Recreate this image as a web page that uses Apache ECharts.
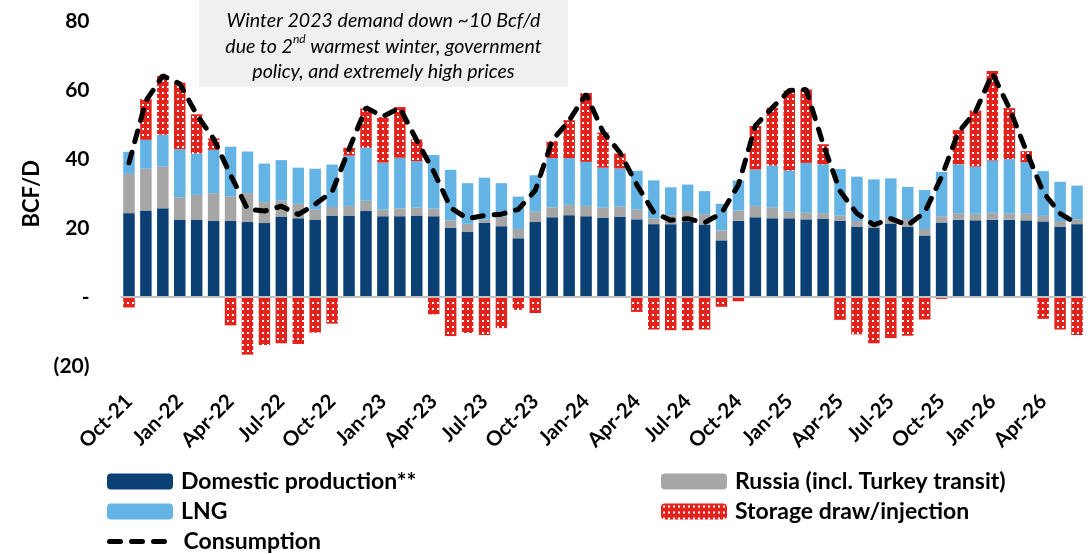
<!DOCTYPE html>
<html>
<head>
<meta charset="utf-8">
<script src="https://cdn.jsdelivr.net/npm/echarts@6/dist/echarts.min.js"></script>
<style>
  html, body { margin: 0; padding: 0; background: #ffffff; }
  #chart { width: 1091px; height: 554px; }
</style>
</head>
<body>
<div id="chart"></div>
<script>
// Monthly European gas balance, Bcf/d
const months = [
  'Oct-21','Nov-21','Dec-21','Jan-22','Feb-22','Mar-22','Apr-22','May-22','Jun-22','Jul-22','Aug-22','Sep-22',
  'Oct-22','Nov-22','Dec-22','Jan-23','Feb-23','Mar-23','Apr-23','May-23','Jun-23','Jul-23','Aug-23','Sep-23',
  'Oct-23','Nov-23','Dec-23','Jan-24','Feb-24','Mar-24','Apr-24','May-24','Jun-24','Jul-24','Aug-24','Sep-24',
  'Oct-24','Nov-24','Dec-24','Jan-25','Feb-25','Mar-25','Apr-25','May-25','Jun-25','Jul-25','Aug-25','Sep-25',
  'Oct-25','Nov-25','Dec-25','Jan-26','Feb-26','Mar-26','Apr-26','May-26','Jun-26'
];

const domesticProduction = [
  24.4, 25.2, 25.8, 22.4, 22.4, 22.1, 22.1, 21.8, 21.5, 23.4, 22.9, 22.4,
  23.7, 23.7, 25.0, 23.5, 23.5, 23.7, 23.5, 20.1, 18.9, 21.6, 20.6, 17.1,
  21.8, 23.2, 23.8, 23.5, 23.0, 23.4, 22.6, 21.2, 21.2, 22.0, 21.1, 16.5,
  22.2, 23.2, 22.9, 22.9, 22.6, 22.8, 22.2, 20.5, 20.2, 21.4, 20.5, 17.9,
  21.7, 22.5, 22.3, 22.5, 22.5, 22.3, 22.0, 20.5, 21.2
];

const russia = [
  11.4, 12.1, 12.2, 6.6, 7.3, 8.1, 7.2, 8.4, 6.1, 4.6, 4.2, 3.0,
  2.5, 2.8, 3.0, 1.9, 2.3, 2.3, 2.2, 2.2, 2.4, 0.9, 2.8, 2.7,
  3.0, 2.9, 3.0, 3.0, 3.0, 2.9, 2.8, 1.7, 2.6, 3.0, 3.0, 2.9,
  2.9, 3.3, 3.2, 1.9, 1.9, 1.6, 1.5, 1.6, 1.0, 1.6, 2.2, 1.9,
  1.8, 1.9, 1.9, 2.0, 1.8, 1.9, 1.6, 1.6, 1.4
];

const lng = [
  6.4, 8.4, 9.2, 14.0, 12.0, 12.6, 14.4, 12.1, 11.2, 11.8, 10.5, 11.9,
  12.3, 14.6, 15.4, 13.7, 14.7, 13.5, 15.6, 14.7, 11.8, 12.2, 9.7, 9.4,
  10.6, 14.3, 13.6, 12.8, 11.6, 11.1, 11.3, 11.0, 8.1, 7.7, 6.7, 7.7,
  8.8, 10.6, 12.1, 12.0, 14.5, 14.2, 13.5, 12.9, 13.0, 11.5, 9.3, 11.3,
  12.9, 14.2, 13.7, 15.2, 15.8, 15.0, 13.0, 11.4, 9.8
];

// positive = withdrawal from storage, negative = injection
const storage = [
  -3.0, 11.8, 17.2, 19.3, 11.4, 3.3, -8.2, -16.7, -13.9, -13.4, -13.6, -10.3,
  -7.7, 2.3, 11.4, 13.2, 14.7, 6.3, -5.0, -11.3, -10.4, -11.0, -9.0, -3.7,
  -4.6, 4.9, 11.0, 20.0, 10.2, 4.3, -4.3, -9.4, -9.6, -9.6, -9.4, -2.8,
  -1.2, 12.6, 16.8, 23.2, 21.3, 5.8, -6.6, -10.8, -13.4, -11.9, -11.2, -6.5,
  -0.5, 9.9, 16.3, 26.0, 14.8, 3.2, -6.3, -9.4, -11.0
];

const consumption = [
  39.0, 57.0, 64.3, 62.0, 53.0, 46.0, 35.5, 25.6, 25.0, 26.4, 24.0, 27.0,
  30.6, 43.0, 55.0, 52.5, 55.0, 45.5, 36.5, 26.0, 22.8, 23.7, 24.1, 25.5,
  31.0, 45.5, 51.3, 59.0, 48.0, 42.0, 32.6, 24.6, 22.3, 22.8, 21.6, 24.4,
  32.6, 49.8, 55.0, 60.0, 60.3, 44.5, 30.8, 24.3, 21.0, 22.8, 20.9, 24.6,
  35.0, 48.0, 53.8, 65.0, 54.9, 42.5, 30.5, 24.3, 21.3
];

const yTicks = [-20, 0, 20, 40, 60, 80];

const FONT = 'Lato, "Open Sans", sans-serif';

// red fill with white dots for the storage bars
function dotPattern() {
  const c = document.createElement('canvas');
  c.width = 5; c.height = 6;
  const ctx = c.getContext('2d');
  ctx.fillStyle = '#e3231b';
  ctx.fillRect(0, 0, 5, 6);
  ctx.fillStyle = '#ffffff';
  ctx.fillRect(2, 2, 2, 2);
  return c;
}

// one legend entry per block so each sits on its own row
function legendEntry(item, left, top, extra) {
  return Object.assign({
    left: left, top: top, orient: 'horizontal',
    itemWidth: 66, itemHeight: 16, itemGap: 0,
    textStyle: { fontFamily: FONT, fontWeight: 'bold', fontSize: 23, color: '#000000', padding: [0, 0, 0, 3] },
    data: [item]
  }, extra || {});
}

const chart = echarts.init(document.getElementById('chart'), null, { renderer: 'canvas' });

const barW = 11.5;

chart.setOption({
  animation: false,
  backgroundColor: '#ffffff',
  grid: { left: 120.5, right: 5.5, top: 21.7, bottom: 188 },
  xAxis: {
    type: 'category',
    data: months,
    boundaryGap: true,
    axisLine: { show: false, onZero: false },
    axisTick: { show: false },
    axisLabel: {
      interval: 2,
      rotate: 45,
      margin: 32,
      fontFamily: FONT,
      fontWeight: 'bold',
      fontSize: 20.5,
      color: '#000000'
    }
  },
  yAxis: {
    type: 'value',
    min: yTicks[0],
    max: yTicks[yTicks.length - 1],
    interval: 20,
    name: 'BCF/D',
    nameLocation: 'middle',
    nameGap: 78,
    nameRotate: 90,
    nameTextStyle: { fontFamily: FONT, fontWeight: 'bold', fontSize: 22, color: '#000000' },
    axisLine: { show: false },
    axisTick: { show: false },
    splitLine: { show: false },
    axisLabel: {
      margin: 31,
      fontFamily: FONT,
      fontWeight: 'bold',
      fontSize: 21,
      color: '#000000',
      formatter: function (v) {
        if (v === 0) return '-';
        if (v < 0) return '(' + Math.abs(v) + ')';
        return String(v);
      }
    }
  },
  legend: [
    legendEntry('Domestic production**', 102, 465),
    legendEntry('LNG', 102, 495),
    legendEntry({
      name: 'Consumption',
      itemStyle: { opacity: 0 },
      lineStyle: { color: '#000000', width: 5, type: [11, 11], cap: 'round' }
    }, 102, 525),
    legendEntry('Russia (incl. Turkey transit)', 656, 465),
    legendEntry('Storage draw/injection', 656, 495)
  ],
  graphic: [
    {
      type: 'rect', left: 199, top: 0, z: 10,
      shape: { width: 369, height: 87 },
      style: { fill: '#f0f0f0' }
    },
    {
      type: 'text', x: 383.5, y: 8, z: 11,
      style: {
        text: 'Winter 2023 demand down ~10 Bcf/d\ndue to 2{sup|nd} warmest winter, government\npolicy, and extremely high prices',
        align: 'center',
        verticalAlign: 'top',
        fontFamily: FONT,
        fontStyle: 'italic',
        fontSize: 19.6,
        lineHeight: 25.5,
        fill: '#000000',
        rich: {
          sup: { fontFamily: FONT, fontStyle: 'italic', fontSize: 12, lineHeight: 25.5, verticalAlign: 'top', padding: [0, 0, 10, 0] }
        }
      }
    }
  ],
  series: [
    {
      name: 'Domestic production**', type: 'bar', stack: 'supply', barWidth: barW,
      itemStyle: { color: '#0b4075' },
      data: domesticProduction,
      markLine: {
        silent: true, symbol: 'none', label: { show: false },
        lineStyle: { color: '#c0c0c0', width: 2, type: 'solid' },
        data: [{ yAxis: 0 }]
      }
    },
    {
      name: 'Russia (incl. Turkey transit)', type: 'bar', stack: 'supply', barWidth: barW,
      itemStyle: { color: '#a6a6a6' },
      data: russia
    },
    {
      name: 'LNG', type: 'bar', stack: 'supply', barWidth: barW,
      itemStyle: { color: '#63b4e4' },
      data: lng
    },
    {
      name: 'Storage draw/injection', type: 'bar', stack: 'supply', barWidth: barW,
      itemStyle: { color: { image: dotPattern(), repeat: 'repeat' } },
      data: storage
    },
    {
      name: 'Consumption', type: 'line', z: 5,
      symbol: 'none',
      lineStyle: { color: '#000000', width: 5, type: [11, 11], cap: 'round' },
      itemStyle: { color: '#000000' },
      data: consumption
    }
  ]
});
</script>
</body>
</html>
